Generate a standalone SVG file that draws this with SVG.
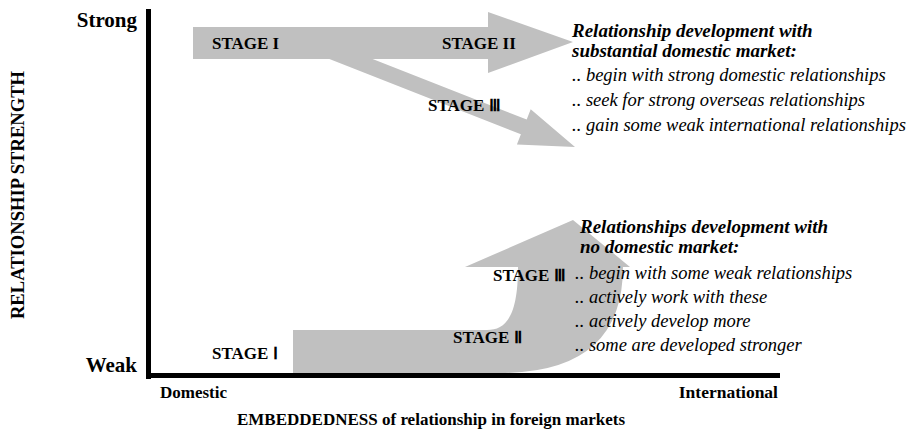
<svg xmlns="http://www.w3.org/2000/svg" width="909" height="434" viewBox="0 0 909 434">
<style>
.arrow{fill:#c0c0c0;stroke:none}
.axis{fill:#000}
.lbl{font-family:"Liberation Serif","Times New Roman",serif;font-weight:bold;fill:#000}
.stage{font-family:"Liberation Serif","Times New Roman",serif;font-weight:bold;font-size:17px;fill:#000}
.head{font-family:"Liberation Serif","Times New Roman",serif;font-weight:bold;font-style:italic;font-size:19px;fill:#000}
.item{font-family:"Liberation Serif","Times New Roman",serif;font-style:italic;font-size:18.5px;fill:#000}
</style>
<rect width="909" height="434" fill="#fff"/>
<g id="connectors">
  <polygon id="arrow-top" class="arrow" points="193,27 488,27 488,12 573,42 488,73 488,59 193,59"/>
  <polygon id="arrow-diag" class="arrow" points="329.4,59 520.9,134.3 516.9,144.6 575,147 530.7,109.2 526.7,119.5 372.6,59"/>
  <path id="arrow-bottom" class="arrow" d="M293,330 H487 C505,330 518,318 518,267 H465 L573,220 L630,267 H623 Q623,373 500,373 H293 Z"/>
</g>
<g id="axes">
  <rect class="axis" x="146" y="9" width="5" height="370"/>
  <rect class="axis" x="146" y="373" width="634" height="5"/>
  <text class="lbl" x="137" y="27" font-size="21" text-anchor="end">Strong</text>
  <text class="lbl" x="137" y="372" font-size="21" text-anchor="end">Weak</text>
  <text class="lbl" font-size="18.6" text-anchor="middle" transform="translate(24,195) rotate(-90)">RELATIONSHIP STRENGTH</text>
  <text class="lbl" x="160" y="398" font-size="17">Domestic</text>
  <text class="lbl" x="778" y="398" font-size="17.5" text-anchor="end">International</text>
  <text class="lbl" x="431" y="425" font-size="17" text-anchor="middle">EMBEDDEDNESS of relationship in foreign markets</text>
</g>
<g id="stage-top-1"><text class="stage" x="212" y="49">STAGE I</text></g>
<g id="stage-top-2"><text class="stage" x="442" y="49">STAGE II</text></g>
<g id="stage-top-3"><text class="stage" x="428" y="111">STAGE Ⅲ</text></g>
<g id="stage-bot-1"><text class="stage" x="212" y="359">STAGE Ⅰ</text></g>
<g id="stage-bot-2"><text class="stage" x="453" y="343">STAGE Ⅱ</text></g>
<g id="stage-bot-3"><text class="stage" x="493" y="281">STAGE Ⅲ</text></g>
<g id="note-top">
  <text class="head" x="572" y="37">Relationship development with</text>
  <text class="head" x="572" y="57">substantial domestic market:</text>
  <text class="item" x="572" y="81">.. begin with strong domestic relationships</text>
  <text class="item" x="572" y="106">.. seek for strong overseas relationships</text>
  <text class="item" x="572" y="131">.. gain some weak international relationships</text>
</g>
<g id="note-bottom">
  <text class="head" x="580" y="233">Relationships development with</text>
  <text class="head" x="580" y="253">no domestic market:</text>
  <text class="item" x="575" y="279">.. begin with some weak relationships</text>
  <text class="item" x="575" y="303">.. actively work with these</text>
  <text class="item" x="575" y="327">.. actively develop more</text>
  <text class="item" x="575" y="351">.. some are developed stronger</text>
</g>
</svg>
